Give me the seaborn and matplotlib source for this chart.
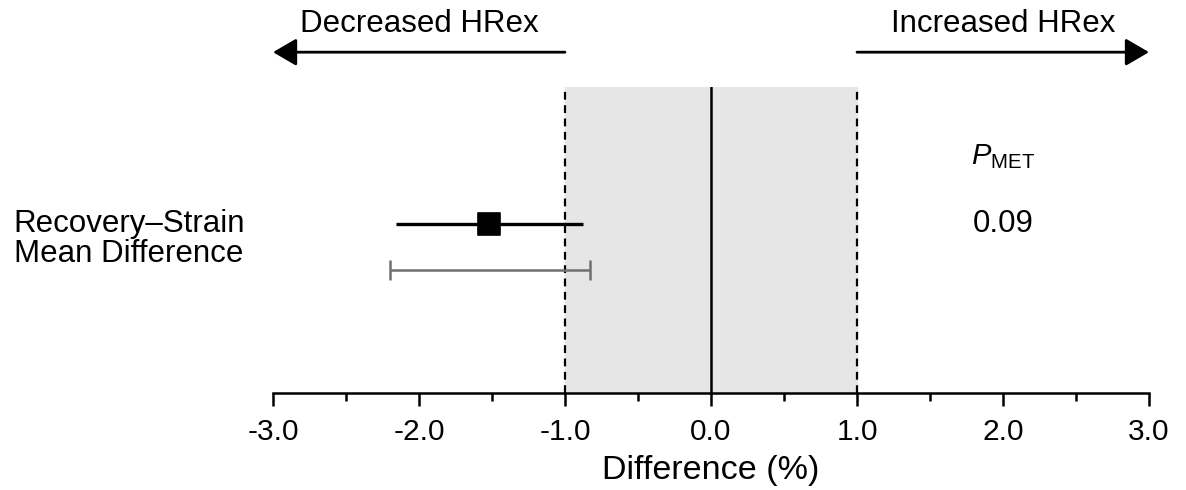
import matplotlib
matplotlib.use("Agg")
import matplotlib.pyplot as plt
import numpy as np
import pandas as pd
import seaborn as sns

# values
comparison = ["Recovery\u2013Strain\nMean Difference"]
mean_diff = [-1.52]
ci_lo = [-2.16]
ci_hi = [-0.875]
range_lo = [-2.20]
range_hi = [-0.83]
p_met = ["0.09"]
equiv_bounds = [-1.0, 1.0]
xticks = [-3.0, -2.0, -1.0, 0.0, 1.0, 2.0, 3.0]
xticklabels = ["-3.0", "-2.0", "-1.0", "0.0", "1.0", "2.0", "3.0"]

sns.set_theme(style="white")
plt.rcParams["font.family"] = ["Liberation Sans", "DejaVu Sans"]
plt.rcParams["mathtext.fontset"] = "custom"
plt.rcParams["mathtext.rm"] = "Liberation Sans"
plt.rcParams["mathtext.it"] = "Liberation Sans:italic"
plt.rcParams["text.color"] = "black"
plt.rcParams["axes.labelcolor"] = "black"
plt.rcParams["xtick.color"] = "black"

fig = plt.figure(figsize=(11.86, 4.9), dpi=100)
ax = fig.add_axes([0.2302, 0.1986, 0.7386, 0.6238])

row_ci = 0.551
row_range = 0.401

# equivalence region
ax.axvspan(equiv_bounds[0], equiv_bounds[1], ymin=0, ymax=1, color="#e6e6e6", zorder=0)
for b in equiv_bounds:
    ax.axvline(b, ymin=0, ymax=1, color="black", lw=1.6, ls=(0, (3.5, 2.5)), zorder=1)
ax.axvline(0, ymin=0, ymax=1, color="black", lw=1.8, zorder=1)

# intervals
ax.errorbar(range_lo[0] / 2 + range_hi[0] / 2, row_range,
            xerr=[[(range_hi[0] - range_lo[0]) / 2]], fmt="none",
            ecolor="#707070", elinewidth=1.8, capsize=7, capthick=1.8, zorder=2)
ax.hlines(row_ci, ci_lo[0], ci_hi[0], color="black", lw=2.4, zorder=3)
df = pd.DataFrame({"diff": mean_diff, "y": [row_ci]})
sns.scatterplot(data=df, x="diff", y="y", marker="s", s=230, color="black",
                edgecolor="black", ax=ax, zorder=4, legend=False)

# labels
ax.text(-0.296, 0.503, comparison[0], transform=ax.transAxes,
        ha="left", va="center", fontsize=22.5, linespacing=1.0)
ax.text(2.0, 0.772, r"$P_{\mathrm{MET}}$", ha="center", va="center", fontsize=21)
ax.text(2.0, 0.553, p_met[0], ha="center", va="center", fontsize=22.5)

# direction arrows
arrow_y = 1.114
style = "-|>,head_length=0.6,head_width=0.35"
ax.annotate("", xy=(-3.0, arrow_y), xytext=(-1.0, arrow_y), annotation_clip=False,
            arrowprops=dict(arrowstyle=style, lw=2, color="black",
                            shrinkA=0, shrinkB=0, mutation_scale=24))
ax.annotate("", xy=(3.0, arrow_y), xytext=(1.0, arrow_y), annotation_clip=False,
            arrowprops=dict(arrowstyle=style, lw=2, color="black",
                            shrinkA=0, shrinkB=0, mutation_scale=24))
ax.text(-2.0, 1.205, "Decreased HRex", ha="center", va="center", fontsize=22.5)
ax.text(2.0, 1.205, "Increased HRex", ha="center", va="center", fontsize=22.5)

ax.set_xlim(-3.0, 3.0)
ax.set_ylim(0, 1)
ax.set_xticks(xticks)
ax.set_xticklabels(xticklabels, fontsize=21.5)
ax.set_xticks(np.arange(-2.5, 3.0, 1.0), minor=True)
ax.set_yticks([])
ax.set_ylabel("")
ax.tick_params(axis="x", which="major", direction="out", length=9, width=1.8,
               color="black", bottom=True, pad=9)
ax.tick_params(axis="x", which="minor", direction="out", length=6, width=1.8,
               color="black", bottom=True)
ax.set_xlabel("Difference (%)", fontsize=24.5, labelpad=7)
for side in ["left", "right", "top"]:
    ax.spines[side].set_visible(False)
ax.spines["bottom"].set_color("black")
ax.spines["bottom"].set_linewidth(1.8)
ax.set_facecolor("none")

fig.savefig("out.png", dpi=100)
